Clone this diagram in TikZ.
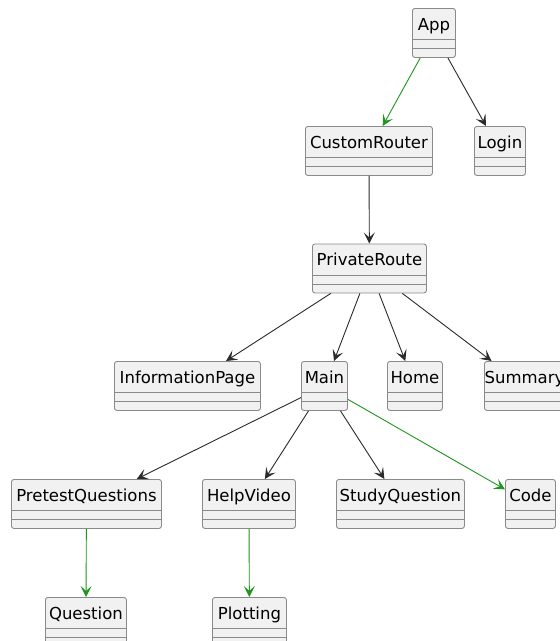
\documentclass[tikz,border=0pt]{standalone}
\usepackage{fontspec}
\setmainfont{DejaVu Sans}
\usetikzlibrary{arrows.meta}

\definecolor{boxfill}{HTML}{F1F1F1}
\definecolor{boxline}{HTML}{8A8A8A}
\definecolor{linkdark}{HTML}{2B2B2B}
\definecolor{linkgreen}{HTML}{1E951E}

\tikzset{
  clsbox/.style={draw=boxline, fill=boxfill, line width=0.9pt, rounded corners=2.5pt,
    anchor=north west, inner sep=0pt, text height=22pt, text depth=27pt,
    font=\fontsize{16.5}{18}\selectfont,
    path picture={
      \draw[boxline, line width=0.9pt]
        ([yshift=-31pt]path picture bounding box.north west) -- ([yshift=-31pt]path picture bounding box.north east)
        ([yshift=-40pt]path picture bounding box.north west) -- ([yshift=-40pt]path picture bounding box.north east);
    }},
  link/.style={line width=0.9pt, -{Stealth[length=11pt,width=11pt,inset=5pt]}}
}

\begin{document}
\begin{tikzpicture}[x=1pt, y=-1pt] % pixel grid of the reference
    \useasboundingbox (0,0) rectangle (560,641);
    \fill[white] (0,0) rectangle (560,641);
    \clip (0,0) rectangle (560,641);

    % the classes: name/left/top/width/text
    \foreach \nm/\x/\y/\w/\txt in {app/412/8/43/App, customrouter/305/126/127/CustomRouter, login/474/126/51/Login,
        privateroute/312/243.5/114/PrivateRoute,
        informationpage/114/361/146/InformationPage, main/301/361/46/Main, home/387/361/55/Home, summary/484/361/80/Summary,
        pretestquestions/11/479/150/PretestQuestions, helpvideo/202/479/93/HelpVideo, studyquestion/336/479/128/StudyQuestion, code/505/479/50/Code,
        question/45/597/81/Question, plotting/212/597/74/Plotting} {
            \node[clsbox, minimum width=\w pt] (\nm) at (\x,\y) {\txt};
        }

    % dark links
    \foreach \a/\b in {app/login, customrouter/privateroute, privateroute/informationpage, privateroute/main,
        privateroute/home, privateroute/summary, main/pretestquestions, main/helpvideo, main/studyquestion} {
            \draw[link, linkdark] (\a) -- (\b);
        }

    % green links
    \foreach \a/\b in {app/customrouter, main/code, pretestquestions/question, helpvideo/plotting} {
            \draw[link, linkgreen] (\a) -- (\b);
        }
\end{tikzpicture}
\end{document}
